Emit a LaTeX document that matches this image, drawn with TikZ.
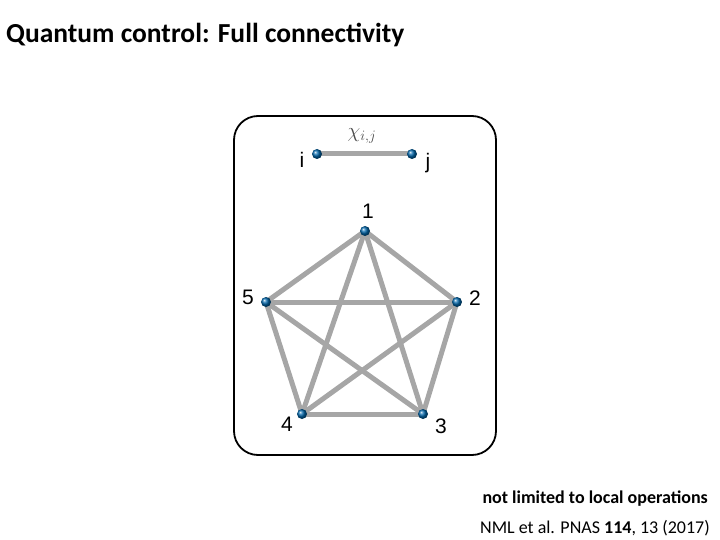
\documentclass[tikz,border=0pt]{standalone}
\usepackage{fontspec}
\setmainfont{Carlito}
\newfontfamily\arialf{Liberation Sans}
\begin{document}
\begin{tikzpicture}[x=1pt,y=-1pt,
  dot/.style={circle,inner sep=0pt,minimum size=10pt,shading=ball,ball color=black!55!blue!60!cyan},
  edge/.style={line width=5pt,draw=black!35},
  lab/.style={font=\arialf\fontsize{21}{21}\selectfont,inner sep=0pt}]
\useasboundingbox (0,0) rectangle (720,540);
\node[anchor=west,font=\bfseries\fontsize{27.5}{27.5}\selectfont,inner sep=0pt] (title) at (6,35) {Quantum control: Full connectivity};
\draw[line width=1.8pt,rounded corners=24pt] (234,116) rectangle (496,455);
\coordinate (i) at (317,154); \coordinate (j) at (412,154);
\coordinate (n1) at (365,231); \coordinate (n2) at (457,302); \coordinate (n3) at (423,414);
\coordinate (n4) at (302,414); \coordinate (n5) at (266,302);
\draw[edge] (i) -- (j);
\foreach \a/\b in {n1/n2,n1/n3,n1/n4,n1/n5,n2/n3,n2/n4,n2/n5,n3/n4,n3/n5,n4/n5} \draw[edge] (\a) -- (\b);
\foreach \n in {i,j,n1,n2,n3,n4,n5} \node[dot] (d\n) at (\n) {};
\node[font=\fontsize{21}{21}\selectfont,inner sep=0pt,text=black!70] (chi) at (362,136) {$\chi_{i,j}$};
\node[lab] (li) at (302,160) {i};
\node[lab] (lj) at (428,163) {j};
\node[lab] (l1) at (368,211) {1};
\node[lab] (l2) at (475,298) {2};
\node[lab] (l3) at (441,426) {3};
\node[lab] (l4) at (287,424) {4};
\node[lab] (l5) at (248,297) {5};
\node[anchor=east,font=\bfseries\fontsize{18}{18}\selectfont,inner sep=0pt] (t1) at (708,499) {not limited to local operations};
\node[anchor=east,font=\fontsize{18}{18}\selectfont,inner sep=0pt] (t2) at (710,528) {NML et al. PNAS \textbf{114}, 13 (2017)};
\end{tikzpicture}
\end{document}
